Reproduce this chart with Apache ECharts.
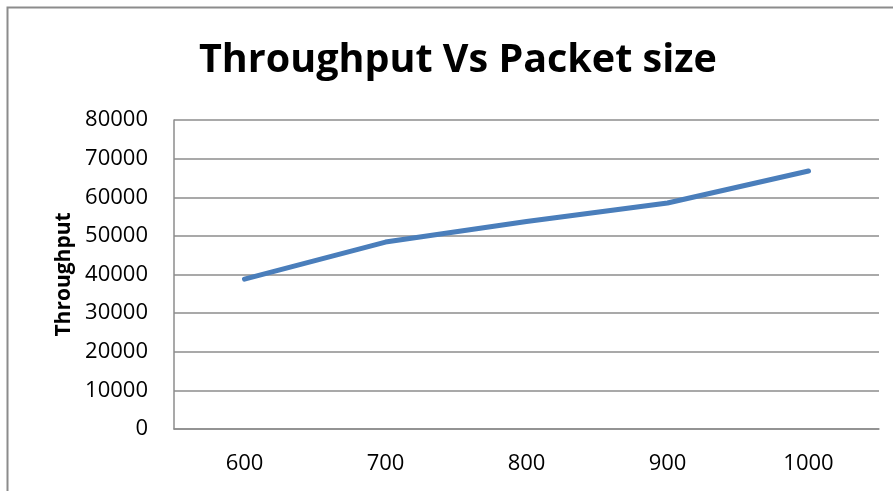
<!DOCTYPE html>
<html>
<head>
<meta charset="utf-8">
<script src="https://cdn.jsdelivr.net/npm/echarts@6/dist/echarts.min.js"></script>
<style>
html,body{margin:0;padding:0;background:#fff;}
#chart{width:893px;height:491px;}
</style>
</head>
<body>
<div id="chart"></div>
<script>
const titleText = "Throughput Vs Packet size";
const yAxisName = "Throughput";
const packetSizes = ["600", "700", "800", "900", "1000"];
const throughput = [38800, 48400, 53700, 58500, 66800];
const yMin = 0, yMax = 80000, yStep = 10000;

const chart = echarts.init(document.getElementById('chart'));
chart.setOption({
  backgroundColor: '#fff',
  animation: false,
  graphic: [{
    type: 'rect',
    shape: { x: 7.5, y: 7.5, width: 1000, height: 1000 },
    style: { fill: 'none', stroke: '#8c8c8c', lineWidth: 2 },
    silent: true
  }],
  title: {
    text: titleText,
    left: 194,
    top: 36,
    textStyle: { fontFamily: 'Open Sans', fontWeight: 'bold', fontSize: 39.5, color: '#000' }
  },
  grid: { left: 174, right: 14, top: 120, bottom: 62 },
  xAxis: {
    type: 'category',
    data: packetSizes,
    boundaryGap: true,
    axisLine: { lineStyle: { color: '#8c8c8c', width: 1.5 } },
    axisTick: { show: false },
    axisLabel: { color: '#000', fontFamily: 'Open Sans', fontSize: 22, margin: 24 },
    splitLine: { show: false }
  },
  yAxis: {
    type: 'value',
    min: yMin, max: yMax, interval: yStep,
    name: yAxisName,
    nameLocation: 'middle',
    nameGap: 98,
    nameRotate: 90,
    nameTextStyle: { color: '#000', fontFamily: 'Open Sans', fontWeight: 'bold', fontSize: 21 },
    axisLine: { show: true, lineStyle: { color: '#8c8c8c', width: 1.5 } },
    axisTick: { show: false },
    axisLabel: { color: '#000', fontFamily: 'Open Sans', fontSize: 22, margin: 26, formatter: v => String(v) },
    splitLine: { lineStyle: { color: '#8c8c8c', width: 1.5 } }
  },
  series: [{
    type: 'line',
    data: throughput,
    showSymbol: false,
    symbol: 'none',
    lineStyle: { color: '#4a7ebb', width: 5, cap: 'round', join: 'round' },
    itemStyle: { color: '#4a7ebb' }
  }]
});
</script>
</body>
</html>
